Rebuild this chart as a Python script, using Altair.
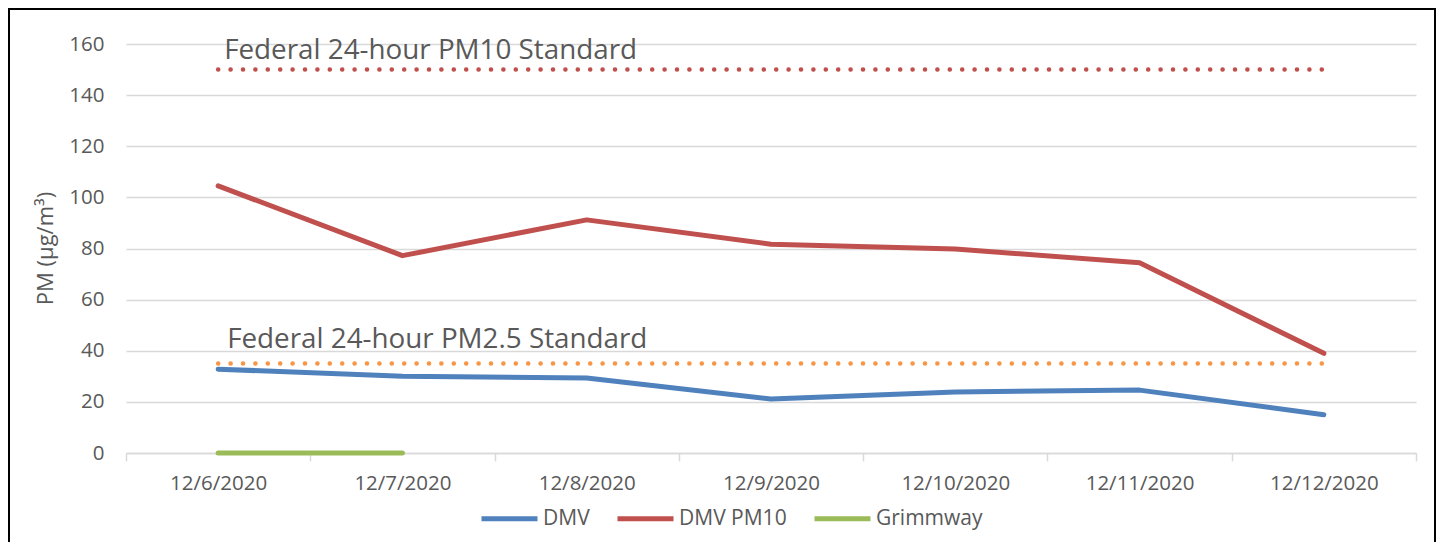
import altair as alt
import pandas as pd

dates = ["12/6/2020", "12/7/2020", "12/8/2020", "12/9/2020", "12/10/2020", "12/11/2020", "12/12/2020"]
dmv = [32.8, 30.0, 29.3, 21.1, 23.9, 24.6, 15.0]
dmv_pm10 = [104.5, 77.2, 91.2, 81.7, 79.8, 74.4, 39.0]
grimmway = [0.0, 0.0, None, None, None, None, None]
series_names = ["DMV", "DMV PM10", "Grimmway"]
series_colors = ["#4F81BD", "#C0504D", "#9BBB59"]
pm10_standard = 150
pm25_standard = 35
pm10_label = "Federal 24-hour PM10 Standard"
pm25_label = "Federal 24-hour PM2.5 Standard"
y_ticks = [0, 20, 40, 60, 80, 100, 120, 140, 160]

FONT = "Open Sans"
GREY = "#595959"

rows = []
for name, vals in zip(series_names, [dmv, dmv_pm10, grimmway]):
    for d, v in zip(dates, vals):
        if v is not None:
            rows.append({"date": d, "series": name, "value": v})
df = pd.DataFrame(rows)

pm10_df = pd.DataFrame({"date": dates, "value": [pm10_standard] * len(dates)})
pm25_df = pd.DataFrame({"date": dates, "value": [pm25_standard] * len(dates)})
pm10_text_df = pd.DataFrame({"date": [dates[0]], "value": [pm10_standard], "label": [pm10_label]})
pm25_text_df = pd.DataFrame({"date": [dates[0]], "value": [pm25_standard], "label": [pm25_label]})
frame_df = pd.DataFrame({"a": [0]})

x_enc = alt.X(
    "date:N",
    sort=dates,
    bandPosition=0.5,
    scale=alt.Scale(type="band", domain=dates, paddingInner=0, paddingOuter=0),
    axis=alt.Axis(
        title=None, labelAngle=0, tickBand="extent", grid=False,
        domainColor="#D9D9D9", domainWidth=1.5, tickColor="#D9D9D9", tickWidth=1.5,
        tickSize=8, labelPadding=12, labelFont=FONT, labelFontSize=20.5, labelColor=GREY,
    ),
)
y_enc = alt.Y(
    "value:Q",
    scale=alt.Scale(domain=[0, 160], nice=False),
    axis=alt.Axis(
        values=y_ticks, title="PM (µg/m³)", domain=False, ticks=False, tickSize=0,
        labelPadding=22, labelFont=FONT, labelFontSize=20.5, labelColor=GREY,
        titleFont=FONT, titleFontSize=22, titleFontWeight="normal", titleColor=GREY,
        titleX=-81, titleY=204, titleAngle=270, titleAlign="center", titleBaseline="middle",
        grid=True, gridColor="#D9D9D9", gridWidth=1.5,
    ),
)

frame = alt.Chart(frame_df).mark_rect(fill="transparent", stroke="black", strokeWidth=2).encode(
    x=alt.value(-117), x2=alt.value(1309), y=alt.value(-35), y2=alt.value(600)
)

pm10_line = alt.Chart(pm10_df).mark_line(
    color="#C0504D", strokeWidth=4.5, strokeDash=[0.1, 12.3], strokeCap="round"
).encode(x=x_enc, y=y_enc)

pm25_line = alt.Chart(pm25_df).mark_line(
    color="#F79646", strokeWidth=4.5, strokeDash=[0.1, 12.3], strokeCap="round"
).encode(x=x_enc, y=y_enc)

series = alt.Chart(df).mark_line(strokeWidth=5, strokeCap="round", strokeJoin="round").encode(
    x=x_enc,
    y=y_enc,
    color=alt.Color(
        "series:N",
        sort=series_names,
        scale=alt.Scale(domain=series_names, range=series_colors),
        legend=alt.Legend(
            title=None, orient="none", legendX=353, legendY=444, direction="horizontal",
            symbolType="stroke", symbolSize=3136, symbolStrokeWidth=5,
            labelFont=FONT, labelFontSize=21, labelColor=GREY, labelOffset=3, columnPadding=17,
        ),
    ),
)

pm10_text = alt.Chart(pm10_text_df).mark_text(
    align="left", baseline="alphabetic", dx=6, dy=-11, font=FONT, fontSize=27.8, color=GREY
).encode(x=x_enc, y=y_enc, text="label:N")

pm25_text = alt.Chart(pm25_text_df).mark_text(
    align="left", baseline="alphabetic", dx=9, dy=-16, font=FONT, fontSize=27.8, color=GREY
).encode(x=x_enc, y=y_enc, text="label:N")

chart = alt.layer(frame, pm10_line, pm25_line, series, pm10_text, pm25_text).properties(
    width=1290,
    height=409,
    autosize=alt.AutoSizeParams(type="none"),
    padding={"left": 118, "top": 36, "right": 28, "bottom": 89},
).configure_view(stroke=None)

chart.save("out.html", embed_options={"renderer": "svg", "actions": False})
